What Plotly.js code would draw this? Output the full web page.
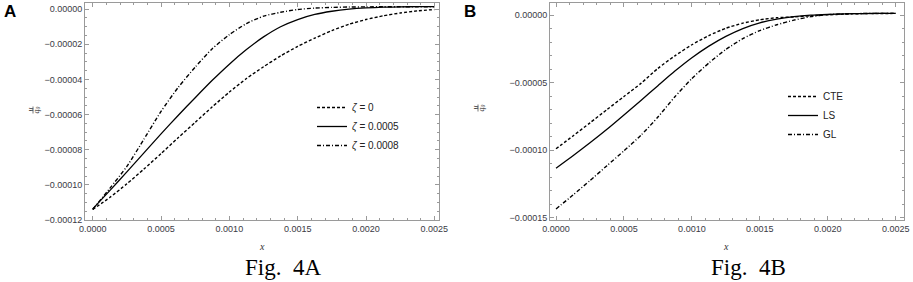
<!DOCTYPE html>
<html>
<head>
<meta charset="utf-8">
<script src="https://cdn.plot.ly/plotly-3.0.1.min.js"></script>
<style>
  html, body { margin: 0; padding: 0; background: #fff; }
  #chart { width: 913px; height: 282px; }
</style>
</head>
<body>
<div id="chart"></div>
<script>
// ---------- data ----------
const xGrid = [0, 0.000125, 0.00025, 0.000375, 0.0005, 0.000625, 0.00075, 0.000875, 0.001, 0.001125,
               0.00125, 0.001375, 0.0015, 0.001625, 0.00175, 0.001875, 0.002, 0.002125, 0.00225, 0.002375, 0.0025];

// Panel A (Fig. 4A)
const namesA = ["<i>ζ</i> = 0", "<i>ζ</i> = 0.0005", "<i>ζ</i> = 0.0008"];
const zeta0 = [-0.0001140, -0.0001072, -0.0000994, -0.0000910, -0.0000822, -0.0000732, -0.0000644, -0.0000556, -0.0000472, -0.0000395,
               -0.0000328, -0.0000266, -0.0000212, -0.0000165, -0.0000122, -0.0000086, -0.0000059, -0.0000038, -0.0000022, -0.0000010, -0.0000002];
const zeta5 = [-0.0001137, -0.0001033, -0.0000926, -0.0000818, -0.0000710, -0.0000605, -0.0000504, -0.0000405, -0.0000313, -0.0000230,
               -0.0000158, -0.0000100, -0.0000059, -0.0000030, -0.0000012, 0.0000000, 0.0000007, 0.0000011, 0.0000013, 0.0000014, 0.0000014];
const zeta8 = [-0.0001140, -0.0001020, -0.0000895, -0.0000740, -0.0000582, -0.0000446, -0.0000330, -0.0000225, -0.0000145, -0.0000082,
               -0.0000040, -0.0000018, -0.0000002, 0.0000006, 0.0000010, 0.0000012, 0.0000013, 0.0000014, 0.0000014, 0.0000014, 0.0000014];

// Panel B (Fig. 4B)
const namesB = ["CTE", "LS", "GL"];
const cte = [-0.0000990, -0.0000895, -0.0000798, -0.0000700, -0.0000603, -0.0000506, -0.0000395, -0.0000302, -0.0000220, -0.0000152,
             -0.0000098, -0.0000060, -0.0000035, -0.0000020, -0.0000014, -0.0000006, 0.0000001, 0.0000007, 0.0000010, 0.0000011, 0.0000012];
const ls  = [-0.0001134, -0.0001042, -0.0000946, -0.0000846, -0.0000740, -0.0000632, -0.0000523, -0.0000415, -0.0000316, -0.0000230,
             -0.0000158, -0.0000100, -0.0000058, -0.0000030, -0.0000012, -0.0000001, 0.0000005, 0.0000009, 0.0000011, 0.0000012, 0.0000012];
const gl  = [-0.0001435, -0.0001332, -0.0001225, -0.0001115, -0.0001005, -0.0000890, -0.0000755, -0.0000605, -0.0000470, -0.0000355,
             -0.0000255, -0.0000175, -0.0000115, -0.0000072, -0.0000038, -0.0000012, 0.0000003, 0.0000009, 0.0000011, 0.0000012, 0.0000012];

const xTitle = "x";
const yNum = "u";
const yDen = "q<sub>0</sub>";
const captionA = "Fig.  4A";
const captionB = "Fig.  4B";

// ---------- styling ----------
const W = 913, H = 282;
const px = v => v / W;
const py = v => 1 - v / H;
const frame = '#9a9a9a';
const tickFont = {family: 'Liberation Sans, Arial, sans-serif', size: 9, color: '#3a3a44'};
const dashS = '3px,2px';
const dashDot = '4px,2px,1px,2px';

function tr(x, y, name, dash, xa, ya, leg) {
  return {x: x, y: y, name: name, type: 'scatter', mode: 'lines', xaxis: xa, yaxis: ya, legend: leg,
          line: {color: '#000', width: dash === 'solid' ? 1.3 : 1.4, dash: dash, shape: 'spline', smoothing: 0.6}};
}

const data = [
  tr(xGrid, zeta0, namesA[0], dashS, 'x', 'y', 'legend'),
  tr(xGrid, zeta5, namesA[1], 'solid', 'x', 'y', 'legend'),
  tr(xGrid, zeta8, namesA[2], dashDot, 'x', 'y', 'legend'),
  tr(xGrid, cte, namesB[0], dashS, 'x2', 'y2', 'legend2'),
  tr(xGrid, ls, namesB[1], 'solid', 'x2', 'y2', 'legend2'),
  tr(xGrid, gl, namesB[2], dashDot, 'x2', 'y2', 'legend2')
];

function xax(domain, range, anchor) {
  return {domain: domain, range: range, anchor: anchor, showgrid: false, zeroline: false,
          showline: true, linecolor: frame, linewidth: 1, mirror: 'allticks',
          ticks: 'inside', ticklen: 4, tickcolor: frame, tickwidth: 1,
          dtick: 0.0005, tick0: 0, tickformat: '.4f', tickfont: tickFont,
          minor: {ticks: 'inside', ticklen: 2, dtick: 0.0001, tick0: 0, tickcolor: frame, showgrid: false}};
}
function yax(domain, range, anchor, dt, mdt) {
  return {domain: domain, range: range, anchor: anchor, showgrid: false, zeroline: false,
          showline: true, linecolor: frame, linewidth: 1, mirror: 'allticks',
          ticks: 'inside', ticklen: 4, tickcolor: frame, tickwidth: 1,
          dtick: dt, tick0: 0, tickformat: '.5f', tickfont: tickFont,
          minor: {ticks: 'inside', ticklen: 2, dtick: mdt, tick0: 0, tickcolor: frame, showgrid: false}};
}

function ann(text, x, y, size, family, extra) {
  return Object.assign({text: text, x: px(x), y: py(y), xref: 'paper', yref: 'paper',
    xanchor: 'center', yanchor: 'middle', showarrow: false,
    font: {family: family, size: size, color: '#000'}}, extra || {});
}
const serif = 'Liberation Serif, serif';
const sans = 'Liberation Sans, Arial, sans-serif';

function yTitleParts(cx, cy) {
  return [
    ann('<i>' + yNum + '</i>', cx - 3.5, cy, 8, serif, {textangle: -90, font: {family: serif, size: 8, color: '#333'}}),
    ann('<i>' + yDen + '</i>', cx + 3.5, cy, 8, serif, {textangle: -90, font: {family: serif, size: 8, color: '#333'}})
  ];
}
function yBar(cx, cy) {
  return {type: 'line', xref: 'paper', yref: 'paper', x0: px(cx), x1: px(cx), y0: py(cy - 3.5), y1: py(cy + 3.5),
          line: {color: '#555', width: 0.8}};
}

const ydom = [py(220), py(3)];
const layout = {
  width: W, height: H, margin: {l: 0, r: 0, t: 0, b: 0},
  paper_bgcolor: '#fff', plot_bgcolor: '#fff',
  showlegend: true,
  xaxis: xax([px(85), px(439)], [-0.0000564, 0.002534], 'y'),
  yaxis: yax(ydom, [-0.00012, 0.0000035], 'x', 0.00002, 0.000005),
  xaxis2: xax([px(550), px(904)], [-0.0000442, 0.002561], 'y2'),
  yaxis2: yax(ydom, [-0.0001517, 0.0000089], 'x2', 0.00005, 0.00001),
  legend: {x: px(312), y: py(93), xanchor: 'left', yanchor: 'top', bgcolor: 'rgba(0,0,0,0)',
           font: {family: sans, size: 10, color: '#222'},
           itemwidth: 30, tracegroupgap: 0},
  legend2: {x: px(783), y: py(82), xanchor: 'left', yanchor: 'top', bgcolor: 'rgba(0,0,0,0)',
           font: {family: sans, size: 10, color: '#222'},
           itemwidth: 30, tracegroupgap: 0},
  shapes: [yBar(33, 110), yBar(478, 108)],
  annotations: [
    ann('<b>A</b>', 10, 12, 17, sans),
    ann('<b>B</b>', 470, 12, 17, sans),
    ...yTitleParts(33, 110),
    ...yTitleParts(478, 108),
    ann('<i>' + xTitle + '</i>', 262, 246, 10, serif, {font: {family: serif, size: 10, color: '#333'}}),
    ann('<i>' + xTitle + '</i>', 726, 246, 10, serif, {font: {family: serif, size: 10, color: '#333'}}),
    ann(captionA, 283, 267, 23, serif),
    ann(captionB, 748, 267, 23, serif)
  ]
};

Plotly.newPlot('chart', data, layout, {staticPlot: true, displayModeBar: false});
</script>
</body>
</html>
